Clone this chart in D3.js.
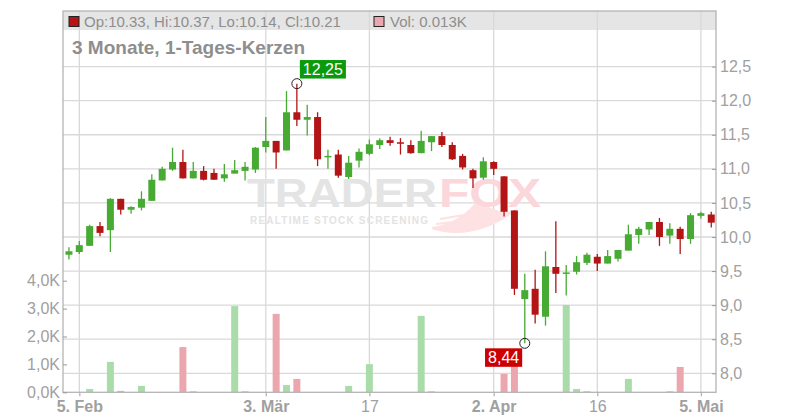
<!DOCTYPE html>
<html>
<head>
<meta charset="utf-8">
<script src="https://cdn.jsdelivr.net/npm/d3@7"></script>
<style>
  html, body { margin: 0; padding: 0; background: #fff; }
  svg { display: block; font-family: "Liberation Sans", Arial, sans-serif; }
</style>
</head>
<body>
<svg id="chart" width="800" height="420"></svg>
<script>
// ---------------- DATA ----------------
const dates = [
  "2025-02-04","2025-02-05","2025-02-06","2025-02-07","2025-02-10","2025-02-11","2025-02-12","2025-02-13","2025-02-14",
  "2025-02-17","2025-02-18","2025-02-19","2025-02-20","2025-02-21","2025-02-24","2025-02-25","2025-02-26","2025-02-27","2025-02-28",
  "2025-03-03","2025-03-04","2025-03-05","2025-03-06","2025-03-07","2025-03-10","2025-03-11","2025-03-12","2025-03-13","2025-03-14",
  "2025-03-17","2025-03-18","2025-03-19","2025-03-20","2025-03-21","2025-03-24","2025-03-25","2025-03-26","2025-03-27","2025-03-28",
  "2025-03-31","2025-04-01","2025-04-02","2025-04-03","2025-04-04","2025-04-07","2025-04-08","2025-04-09","2025-04-10","2025-04-11",
  "2025-04-14","2025-04-15","2025-04-16","2025-04-17","2025-04-22","2025-04-23","2025-04-24","2025-04-25",
  "2025-04-28","2025-04-29","2025-04-30","2025-05-02","2025-05-05","2025-05-06"
];
const openValues = [
  9.74,9.78,9.87,10.16,10.10,10.56,10.40,10.43,10.53,
  10.83,10.99,11.10,10.86,10.97,10.94,10.86,10.93,10.97,10.99,
  11.32,11.41,11.27,11.83,11.72,11.76,11.17,11.21,10.88,11.12,
  11.22,11.35,11.42,11.39,11.35,11.23,11.39,11.48,11.35,11.19,
  10.98,10.87,11.10,10.89,10.39,9.09,9.24,8.83,9.56,9.46,
  9.49,9.62,9.71,9.61,9.68,9.80,10.03,10.11,
  10.22,10.02,10.12,9.97,10.31,10.33
];
const highValues = [
  9.85,9.94,10.18,10.22,10.57,10.56,10.45,10.67,10.92,
  11.03,11.31,11.28,11.10,11.04,11.00,11.07,11.13,11.10,11.32,
  11.76,11.41,12.14,12.25,11.94,11.83,11.28,11.28,11.19,11.30,
  11.43,11.45,11.47,11.45,11.42,11.56,11.48,11.54,11.39,11.22,
  11.00,11.17,11.11,10.89,10.39,9.46,9.52,9.79,10.23,9.59,
  9.72,9.77,9.75,9.81,9.81,10.18,10.15,10.22,
  10.28,10.20,10.15,10.35,10.37,10.37
];
const lowValues = [
  9.67,9.75,9.87,10.01,9.78,10.33,10.34,10.39,10.53,
  10.83,10.97,10.86,10.86,10.83,10.84,10.81,10.93,10.83,10.94,
  11.24,11.00,11.27,11.63,11.49,11.04,11.00,10.87,10.85,11.02,
  11.20,11.29,11.34,11.21,11.22,11.23,11.26,11.32,11.13,10.99,
  10.72,10.84,10.91,10.30,9.15,8.44,8.73,8.70,9.18,9.14,
  9.45,9.59,9.50,9.61,9.64,9.80,9.90,10.03,
  9.87,9.90,9.75,9.90,10.27,10.14
];
const closeValues = [
  9.79,9.88,10.16,10.06,10.56,10.40,10.44,10.56,10.84,
  11.00,11.10,10.86,10.97,10.84,10.84,10.92,10.98,11.03,11.31,
  11.41,11.24,11.83,11.72,11.76,11.14,11.19,10.90,11.09,11.25,
  11.36,11.42,11.38,11.37,11.23,11.41,11.48,11.35,11.14,11.02,
  10.86,11.11,11.00,10.37,9.24,9.22,8.86,9.57,9.46,9.48,
  9.63,9.74,9.61,9.72,9.81,10.04,10.12,10.22,
  10.00,10.12,9.97,10.32,10.35,10.21
];
// volume in thousands (K)
const volumeValues = [
  0,0,0.12,0,1.09,0.05,0,0.23,0,
  0,0,1.62,0.04,0,0,0,3.09,0.04,0,
  0,2.81,0.26,0.48,0,0,0,0,0.23,0,
  1.01,0,0,0,0,2.74,0.04,0,0,0,
  0,0,0,0.66,1.30,0,0,0,0,3.13,
  0.12,0.04,0,0,0,0.48,0,0,
  0,0.04,0.91,0,0,0.013
];
const priceTicks = [8.0, 8.5, 9.0, 9.5, 10.0, 10.5, 11.0, 11.5, 12.0, 12.5];
const volumeTicks = [0, 1, 2, 3, 4];
const xTickDates = ["2025-02-05","2025-03-03","2025-03-17","2025-04-02","2025-04-16","2025-05-05"];
const xTickLabels = ["5. Feb","3. Mär","17","2. Apr","16","5. Mai"];
const xTickBold = [true, true, false, true, false, true];
const titleText = "3 Monate, 1-Tages-Kerzen";
const legendPrice = "Op:10.33, Hi:10.37, Lo:10.14, Cl:10.21";
const legendVolume = "Vol: 0.013K";
const highMarker = { date: "2025-03-06", value: 12.25, label: "12,25" };
const lowMarker = { date: "2025-04-07", value: 8.44, label: "8,44" };

// ---------------- LAYOUT ----------------
const L = 63, R = 716, T = 11, B = 392.3;
const GREEN = "#47ab33", RED = "#b31516";
const VGREEN = "#aadcaa", VRED = "#eca6ae";
const GRID = "#d9d9d9", TEXT = "#a0a0a0";

const data = dates.map((d, i) => ({
  date: d, open: openValues[i], high: highValues[i], low: lowValues[i],
  close: closeValues[i], vol: volumeValues[i]
}));

const svg = d3.select("#chart");
const x = d3.scalePoint().domain(dates).range([68.94, 711.26]);
const y = d3.scaleLinear().domain([8, 12.5]).range([373.3, 66.6]);
const yv = d3.scaleLinear().domain([0, 4]).range([B, 280.7]);
const comma = (v, n) => v.toFixed(n).replace(".", ",");

// header band
svg.append("rect").attr("x", L).attr("y", T).attr("width", R - L).attr("height", 19).attr("fill", "#e5e5e5");

// gridlines
svg.append("g").selectAll("line").data(priceTicks).join("line")
  .attr("x1", L).attr("x2", R).attr("y1", d => y(d)).attr("y2", d => y(d))
  .attr("stroke", GRID).attr("stroke-width", 1.3);
svg.append("g").selectAll("line").data(xTickDates).join("line")
  .attr("x1", d => x(d)).attr("x2", d => x(d)).attr("y1", T).attr("y2", B)
  .attr("stroke", GRID).attr("stroke-width", 1.3);

// watermark
const wm = svg.append("g").attr("font-weight", "bold");
wm.append("text").attr("x", 247).attr("y", 206.5).attr("font-size", 40)
  .attr("textLength", 190).attr("lengthAdjust", "spacingAndGlyphs")
  .attr("fill", "#e4e4e4").text("TRADER");
wm.append("path")
  .attr("d", "M432,228 C450,226 470,214 478,200 C488,210 500,214 512,212 C500,222 478,232 455,232 C446,232 438,230 432,228 Z M440,219 L470,214 M436,224 L462,221")
  .attr("fill", "#fde1e3").attr("stroke", "#fde1e3").attr("stroke-width", 2);
wm.append("text").attr("x", 439).attr("y", 206.5).attr("font-size", 40)
  .attr("textLength", 102).attr("lengthAdjust", "spacingAndGlyphs")
  .attr("fill", "#fbd6da").text("FOX");
wm.append("text").attr("x", 250).attr("y", 224).attr("font-size", 10)
  .attr("textLength", 178).attr("lengthAdjust", "spacing")
  .attr("fill", "#e3e3e3").text("REALTIME STOCK SCREENING");

// volume bars
svg.append("g").selectAll("rect").data(data.filter(d => d.vol > 0)).join("rect")
  .attr("x", d => x(d.date) - 3.5).attr("width", 7)
  .attr("y", d => yv(d.vol)).attr("height", d => B - yv(d.vol))
  .attr("fill", d => d.close >= d.open ? VGREEN : VRED);

// candles
const c = svg.append("g").selectAll("g").data(data).join("g");
c.append("line")
  .attr("x1", d => x(d.date)).attr("x2", d => x(d.date))
  .attr("y1", d => y(d.high)).attr("y2", d => y(d.low))
  .attr("stroke", d => d.close >= d.open ? GREEN : RED).attr("stroke-width", 1.3);
c.append("rect")
  .attr("x", d => x(d.date) - 3.5).attr("width", 7)
  .attr("y", d => y(Math.max(d.open, d.close)))
  .attr("height", d => Math.max(1.5, Math.abs(y(d.open) - y(d.close))))
  .attr("fill", d => d.close >= d.open ? GREEN : RED);

// border
svg.append("rect").attr("x", L).attr("y", T).attr("width", R - L).attr("height", B - T)
  .attr("fill", "none").attr("stroke", "#b4b4b4").attr("stroke-width", 1.3);

// right price axis
const ra = svg.append("g").attr("transform", `translate(${R},0)`)
  .call(d3.axisRight(y).tickValues(priceTicks).tickSizeInner(-4).tickSizeOuter(0).tickPadding(4)
    .tickFormat(d => comma(d, 1)));
ra.select(".domain").remove();
ra.selectAll("line").attr("stroke", "#999");
ra.selectAll("text").attr("fill", TEXT).attr("font-size", 16).attr("font-family", "Liberation Sans, Arial, sans-serif");

// left volume axis
const la = svg.append("g").attr("transform", `translate(${L},0)`)
  .call(d3.axisLeft(yv).tickValues(volumeTicks).tickSizeInner(-4).tickSizeOuter(0).tickPadding(3)
    .tickFormat(d => comma(d, 1) + "K"));
la.select(".domain").remove();
la.selectAll("line").attr("stroke", "#999");
la.selectAll("text").attr("fill", TEXT).attr("font-size", 16).attr("font-family", "Liberation Sans, Arial, sans-serif");

// bottom axis
const ba = svg.append("g").attr("transform", `translate(0,${B})`)
  .call(d3.axisBottom(x).tickValues(xTickDates).tickSize(4).tickPadding(4)
    .tickFormat((d, i) => xTickLabels[i]));
ba.select(".domain").remove();
ba.selectAll("line").attr("stroke", "#b4b4b4").attr("stroke-width", 1.3);
ba.selectAll("text").attr("fill", TEXT).attr("font-size", 16)
  .attr("font-family", "Liberation Sans, Arial, sans-serif")
  .attr("font-weight", (d, i) => xTickBold[i] ? "bold" : "normal");

// legend header
svg.append("rect").attr("x", 69).attr("y", 16.5).attr("width", 10).attr("height", 10)
  .attr("fill", RED).attr("stroke", "#222").attr("stroke-width", 1);
svg.append("text").attr("x", 84).attr("y", 26.5).attr("font-size", 15).attr("fill", "#8e8e8e").text(legendPrice);
svg.append("rect").attr("x", 374).attr("y", 16.5).attr("width", 10).attr("height", 10)
  .attr("fill", VRED).attr("stroke", "#222").attr("stroke-width", 1);
svg.append("text").attr("x", 390).attr("y", 26.5).attr("font-size", 15).attr("fill", "#8e8e8e").text(legendVolume);

// title
svg.append("text").attr("x", 72).attr("y", 54).attr("font-size", 19).attr("font-weight", "bold")
  .attr("fill", "#8e8e8e").text(titleText);

// high / low markers
function marker(m, fill, anchorRight, dy) {
  const cx = x(m.date), cy = y(m.value);
  svg.append("circle").attr("cx", cx).attr("cy", cy).attr("r", 5)
    .attr("fill", "none").attr("stroke", "#222").attr("stroke-width", 1);
  const g = svg.append("g");
  const rect = g.append("rect").attr("height", 18.5).attr("fill", fill);
  const t = g.append("text").attr("y", 14.5).attr("text-anchor", "middle")
    .attr("font-size", 16).attr("fill", "#fff").text(m.label);
  const w = t.node().getComputedTextLength() + 6;
  rect.attr("width", w);
  t.attr("x", w / 2);
  const gx = anchorRight ? cx - 2.6 - w : cx + 3;
  g.attr("transform", `translate(${gx},${cy + dy})`);
}
marker(highMarker, "#0b9a0b", false, -23.6);
marker(lowMarker, "#cc0000", true, 5);
</script>
</body>
</html>
